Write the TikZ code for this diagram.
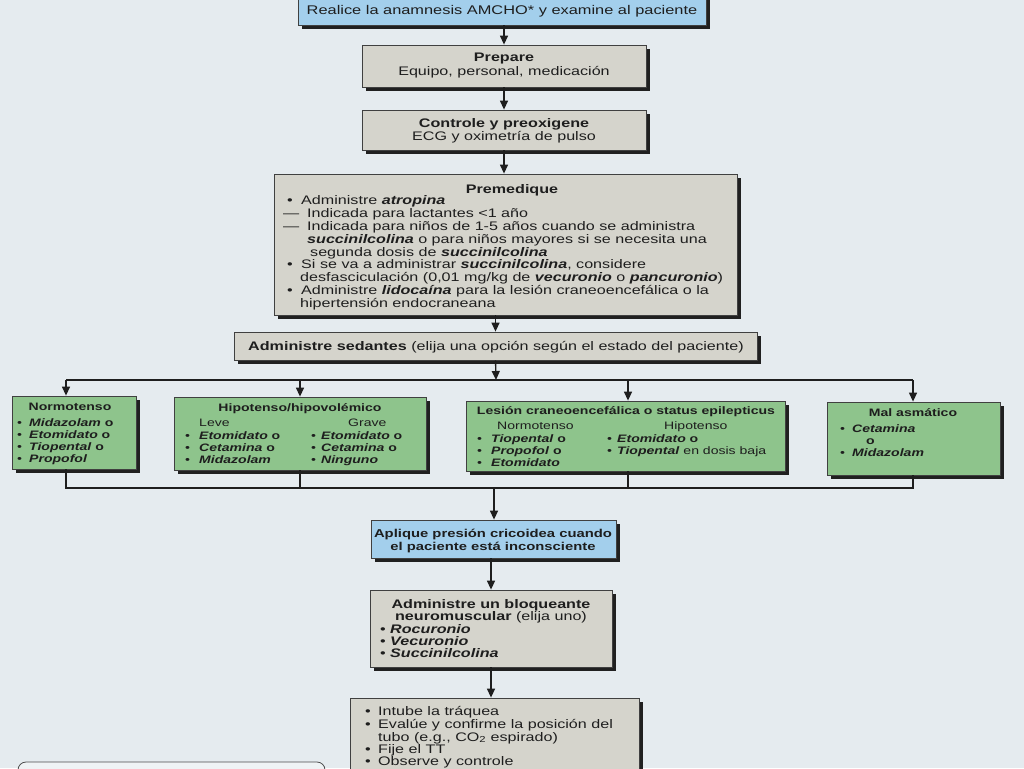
\documentclass[tikz,border=0pt]{standalone}
\usepackage{fontspec}
\setmainfont{Liberation Sans}[FakeStretch=1.3]
\usetikzlibrary{shadows,arrows.meta,fit}
\definecolor{bg}{HTML}{E5EBEF}
\definecolor{grayf}{HTML}{D5D4CC}
\definecolor{greenf}{HTML}{8EC48C}
\definecolor{bluef}{HTML}{A3CFEC}
\definecolor{ink}{HTML}{1E1E1E}
\definecolor{shad}{HTML}{202020}
\newcommand\bfit[1]{\textbf{\textit{#1}}}
\newcommand\bul[1]{\llap{\makebox[#1][l]{•}}}
\newcommand\dsh{\llap{\makebox[24pt][l]{—}}}
\newcommand\msz{\fontsize{12.4}{13}\selectfont}
\newcommand\gsz{\fontsize{10.8}{12}\selectfont}
\begin{document}
\begin{tikzpicture}[x=1pt,y=-1pt,
 box/.style={draw=ink!85, line width=0.8pt, inner sep=0pt, drop shadow={shadow xshift=4pt,shadow yshift=-4pt,opacity=1,fill=shad}},
 graybox/.style={box,fill=grayf},
 greenbox/.style={box,fill=greenf},
 bluebox/.style={box,fill=bluef},
 txt/.style={inner sep=0pt, text=ink, font=\msz, anchor=base},
 txtl/.style={txt, anchor=base west},
 gtx/.style={txt, font=\gsz},
 gtxl/.style={gtx, anchor=base west},
 conn/.style={draw=ink, line width=1.3pt},
 arr/.style={conn, -{Triangle[length=9pt,width=8pt]}},
]
\useasboundingbox (0,0) rectangle (1024,768);
\fill[bg] (0,0) rectangle (1024,768);

% boxes
\node[bluebox, fit={(298,-8) (706,25)}] (top) {};
\node[graybox, fit={(362,45) (646,87)}] (prep) {};
\node[graybox, fit={(362,110) (646,150)}] (ctrl) {};
\node[graybox, fit={(274,174) (737,315)}] (prem) {};
\node[graybox, fit={(234,332) (757,360)}] (sed) {};
\node[greenbox, fit={(12,396) (136,469)}] (norm) {};
\node[greenbox, fit={(174,397) (426,470)}] (hipo) {};
\node[greenbox, fit={(466,401) (785,471)}] (les) {};
\node[greenbox, fit={(827,402) (1000,475)}] (mal) {};
\node[bluebox, fit={(371,520) (616,558)}] (apl) {};
\node[graybox, fit={(370,590) (612,667)}] (bloq) {};
\node[graybox, fit={(350,698) (639,800)}] (last) {};
\node[draw=ink!80, line width=0.8pt, rounded corners=8pt, fill=white!40!bg, inner sep=0pt, fit={(18,762) (325,800)}] (note) {};

% top texts
\node[txt, font=\fontsize{12.6}{13}\selectfont] (toptx) at (502,15) {Realice la anamnesis AMCHO* y examine al paciente};
\node[txt, font=\msz\bfseries] (preptit) at (504,62) {Prepare};
\node[txt] (preptx) at (504,75) {Equipo, personal, medicación};
\node[txt, font=\msz\bfseries] (ctrltit) at (504,127) {Controle y preoxigene};
\node[txt] (ctrltx) at (504,140) {ECG y oximetría de pulso};

% premedique
\node[txt, font=\msz\bfseries] (premtit) at (512,193) {Premedique};
\node[txtl] (pm1) at (301,204) {\bul{14pt}Administre \bfit{atropina}};
\node[txtl] (pm2) at (307,217) {\dsh Indicada para lactantes <1 año};
\node[txtl] (pm3) at (307,230) {\dsh Indicada para niños de 1-5 años cuando se administra};
\node[txtl] (pm4) at (307,243) {\bfit{succinilcolina} o para niños mayores si se necesita una};
\node[txtl] (pm5) at (310,256) {segunda dosis de \bfit{succinilcolina}};
\node[txtl] (pm6) at (301,268) {\bul{14pt}Si se va a administrar \bfit{succinilcolina}, considere};
\node[txtl] (pm7) at (300,281) {desfasciculación (0,01 mg/kg de \bfit{vecuronio} o \bfit{pancuronio})};
\node[txtl] (pm8) at (301,294) {\bul{14pt}Administre \bfit{lidocaína} para la lesión craneoencefálica o la};
\node[txtl] (pm9) at (300,307) {hipertensión endocraneana};

% sedantes
\node[txt] (sedtx) at (496,350) {\textbf{Administre sedantes} (elija una opción según el estado del paciente)};

% normotenso
\node[gtx, font=\gsz\bfseries] (normtit) at (70,410) {Normotenso};
\node[gtxl] (n1) at (29,426) {\bul{12pt}\bfit{Midazolam} \textbf{o}};
\node[gtxl] (n2) at (29,438) {\bul{12pt}\bfit{Etomidato} \textbf{o}};
\node[gtxl] (n3) at (29,450) {\bul{12pt}\bfit{Tiopental} \textbf{o}};
\node[gtxl] (n4) at (29,462) {\bul{12pt}\bfit{Propofol}};

% hipotenso
\node[gtx, font=\gsz\bfseries] (hipotit) at (300,411) {Hipotenso/hipovolémico};
\node[gtxl] (hleve) at (199,426) {Leve};
\node[gtxl] (hgrave) at (348,426) {Grave};
\node[gtxl] (h1) at (199,439) {\bul{14pt}\bfit{Etomidato} \textbf{o}};
\node[gtxl] (h2) at (199,451) {\bul{14pt}\bfit{Cetamina} \textbf{o}};
\node[gtxl] (h3) at (199,463) {\bul{14pt}\bfit{Midazolam}};
\node[gtxl] (h4) at (321,439) {\bul{10pt}\bfit{Etomidato} \textbf{o}};
\node[gtxl] (h5) at (321,451) {\bul{10pt}\bfit{Cetamina} \textbf{o}};
\node[gtxl] (h6) at (321,463) {\bul{10pt}\bfit{Ninguno}};

% lesion
\node[gtx, font=\gsz\bfseries] (lestit) at (626,414) {Lesión craneoencefálica o status epilepticus};
\node[gtxl] (lnorm) at (497,429) {Normotenso};
\node[gtxl] (lhipo) at (664,429) {Hipotenso};
\node[gtxl] (l1) at (491,442) {\bul{14pt}\bfit{Tiopental} \textbf{o}};
\node[gtxl] (l2) at (491,454) {\bul{14pt}\bfit{Propofol} \textbf{o}};
\node[gtxl] (l3) at (491,466) {\bul{14pt}\bfit{Etomidato}};
\node[gtxl] (l4) at (617,442) {\bul{10pt}\bfit{Etomidato} \textbf{o}};
\node[gtxl] (l5) at (617,454) {\bul{10pt}\bfit{Tiopental} en dosis baja};

% mal asmatico
\node[gtx, font=\gsz\bfseries] (maltit) at (913,416) {Mal asmático};
\node[gtxl] (m1) at (852,432) {\bul{12pt}\bfit{Cetamina}};
\node[gtxl] (m2) at (866,444) {\textbf{o}};
\node[gtxl] (m3) at (852,456) {\bul{12pt}\bfit{Midazolam}};

% aplique
\node[txt, font=\fontsize{11.4}{13}\selectfont\bfseries] (apl1) at (493,537) {Aplique presión cricoidea cuando};
\node[txt, font=\fontsize{11.4}{13}\selectfont\bfseries] (apl2) at (493,550) {el paciente está inconsciente};

% bloqueante
\node[txt, font=\msz\bfseries] (bq1) at (491,608) {Administre un bloqueante};
\node[txt] (bq2) at (491,620) {\textbf{neuromuscular} (elija uno)};
\node[txtl] (bq3) at (390,633) {\bul{10pt}\bfit{Rocuronio}};
\node[txtl] (bq4) at (390,645) {\bul{10pt}\bfit{Vecuronio}};
\node[txtl] (bq5) at (390,657) {\bul{10pt}\bfit{Succinilcolina}};

% last
\node[txtl] (ls1) at (378,715) {\bul{13pt}Intube la tráquea};
\node[txtl] (ls2) at (378,728) {\bul{13pt}Evalúe y confirme la posición del};
\node[txtl] (ls3) at (378,741) {tubo (e.g., CO\textsubscript{2} espirado)};
\node[txtl] (ls4) at (378,753) {\bul{13pt}Fije el TT};
\node[txtl] (ls5) at (378,765) {\bul{13pt}Observe y controle};

% connectors
\draw[arr] (top.south -| prep.north) -- (prep.north);
\draw[arr] (prep.south) -- (ctrl.north);
\draw[arr] (ctrl.south) -- (ctrl.south |- prem.north);
\draw[arr] (prem.south -| sed.north) -- (sed.north);
\coordinate (jt) at (496,380);
\coordinate (jl) at (66,380);
\coordinate (jles) at (628,380);
\coordinate (jr) at (913,380);
\draw[arr] (sed.south) -- (jt);
\draw[conn] (jl) -- (jr);
\draw[arr] (jl) -- (jl |- norm.north);
\draw[arr] (hipo.north |- jt) -- (hipo.north);
\draw[arr] (jles) -- (jles |- les.north);
\draw[arr] (jr) -- (jr |- mal.north);
\coordinate (bl) at (66,488);
\coordinate (bles) at (628,488);
\coordinate (br) at (913,488);
\coordinate (bm) at (494,488);
\draw[conn] (bl |- norm.south) -- (bl) -- (br) -- (br |- mal.south);
\draw[conn] (hipo.south) -- (hipo.south |- bl);
\draw[conn] (bles |- les.south) -- (bles);
\draw[arr] (bm) -- (bm |- apl.north);
\draw[arr] (apl.south -| bloq.north) -- (bloq.north);
\draw[arr] (bloq.south) -- (bloq.south |- last.north);
\end{tikzpicture}
\end{document}
